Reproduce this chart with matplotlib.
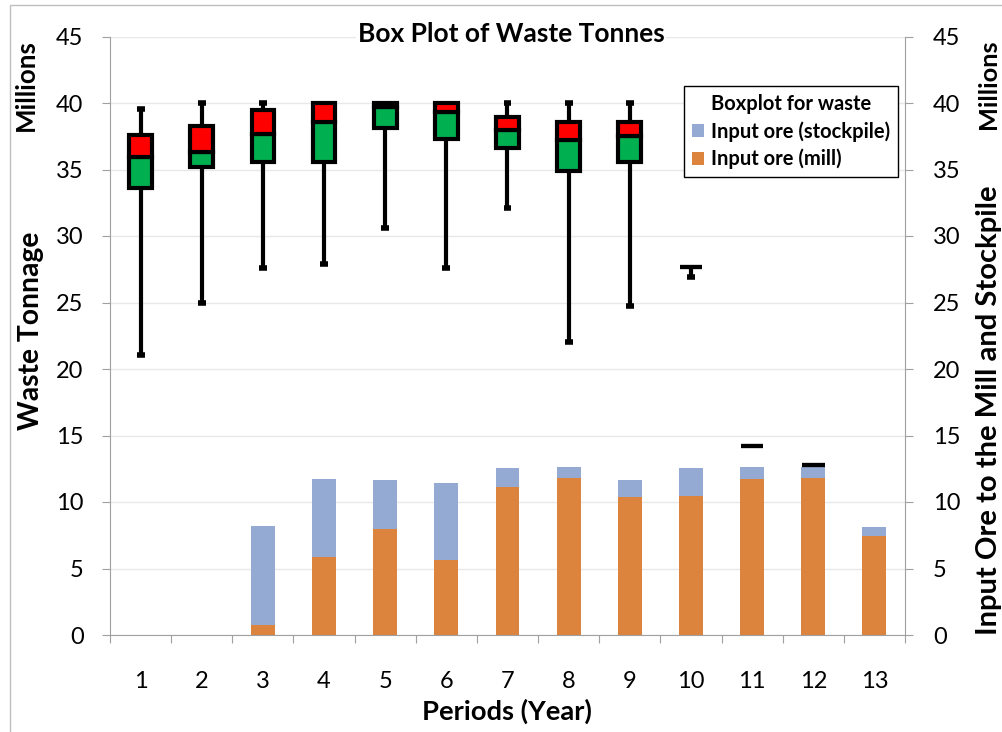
import numpy as np
import matplotlib
matplotlib.use('Agg')
import matplotlib.pyplot as plt
from matplotlib.patches import Patch, Rectangle

# ---------------- data (millions of tonnes) ----------------
periods = [str(i) for i in range(1, 14)]
whisker_low = [21.05, 25.0, 27.6, 27.9, 30.6, 27.6, 32.1, 22.0, 24.7, 26.95, np.nan, np.nan, np.nan]
q1 = [33.6, 35.2, 35.6, 35.55, 38.1, 37.3, 36.6, 34.9, 35.6, 27.7, 14.2, 12.8, np.nan]
median = [35.95, 36.3, 37.65, 38.55, 39.7, 39.3, 38.0, 37.2, 37.5, 27.7, 14.2, 12.8, np.nan]
q3 = [37.6, 38.25, 39.45, 40.0, 40.0, 40.0, 38.95, 38.6, 38.6, 27.7, 14.2, 12.8, np.nan]
whisker_high = [39.55, 40.0, 40.0, 40.0, 40.0, 40.0, 40.0, 40.0, 40.0, 27.7, 14.2, 12.8, np.nan]

input_mill = [0, 0, 0.75, 5.9, 7.97, 5.66, 11.13, 11.8, 10.38, 10.48, 11.7, 11.8, 7.42]
input_stockpile = [0, 0, 7.45, 5.8, 3.68, 5.79, 1.4, 0.8, 1.27, 2.05, 0.9, 0.8, 0.68]

y_ticks = [0, 5, 10, 15, 20, 25, 30, 35, 40, 45]

# ---------------- style ----------------
plt.rcParams['font.family'] = ['Lato', 'DejaVu Sans']
GREEN = '#00B050'
RED = '#FF0000'
BLUE = '#95AAD2'
ORANGE = '#DC843E'
SPINE = '#A0A0A0'
GRID = '#E8E8E8'

W, H = 1003, 732
fig = plt.figure(figsize=(W / 100, H / 100), dpi=100)
ax = fig.add_axes([110 / W, 1 - 635 / H, (905 - 110) / W, (635 - 36.5) / H])

x = np.arange(1, len(periods) + 1)

# stacked bars: mill at bottom, stockpile on top
ax.bar(x, input_mill, width=0.39, color=ORANGE, edgecolor='none', zorder=2)
ax.bar(x, input_stockpile, bottom=input_mill, width=0.39, color=BLUE,
       edgecolor='none', zorder=2)

# box plot drawn from quartiles
wl = np.array(whisker_low, dtype=float)
wh = np.array(whisker_high, dtype=float)
a1 = np.array(q1, dtype=float)
am = np.array(median, dtype=float)
a3 = np.array(q3, dtype=float)
ok = ~np.isnan(a1)

lo_m = ok & ~np.isnan(wl) & (wl < a1)
hi_m = ok & (wh > a3)
ax.vlines(x[lo_m], wl[lo_m], a1[lo_m], colors='k', lw=3, zorder=3)
ax.vlines(x[hi_m], a3[hi_m], wh[hi_m], colors='k', lw=3, zorder=3)
ax.hlines(wl[lo_m], x[lo_m] - 0.065, x[lo_m] + 0.065, colors='k', lw=4, zorder=3)
ax.hlines(wh[hi_m], x[hi_m] - 0.065, x[hi_m] + 0.065, colors='k', lw=4, zorder=3)

bw = 0.37
ax.bar(x[ok], (am - a1)[ok], bottom=a1[ok], width=bw, color=GREEN,
       edgecolor='k', lw=3, zorder=4)
ax.bar(x[ok], (a3 - am)[ok], bottom=am[ok], width=bw, color=RED,
       edgecolor='k', lw=3, zorder=4)

# axes formatting
ax.set_xlim(0.5, len(periods) + 0.5)
ax.set_ylim(0, 45)
ax.set_yticks(y_ticks)
ax.set_xticks(np.arange(0.5, len(periods) + 1, 1))
ax.set_xticklabels([])
ax.set_xticks(x, minor=True)
ax.set_xticklabels(periods, minor=True)
ax.tick_params(axis='x', which='major', length=6, color=SPINE, direction='out')
ax.tick_params(axis='x', which='minor', length=0, pad=26, labelsize=17)
ax.tick_params(axis='y', length=6, color=SPINE, direction='out', pad=13, labelsize=17)
ax.yaxis.grid(True, color=GRID, lw=1)
ax.set_axisbelow(True)
for s in ['top', 'right']:
    ax.spines[s].set_visible(False)
for s in ['left', 'bottom']:
    ax.spines[s].set_color(SPINE)

ax2 = ax.twinx()
ax2.set_ylim(0, 45)
ax2.set_yticks(y_ticks)
ax2.tick_params(axis='y', length=6, color=SPINE, direction='out', pad=14, labelsize=17)
for s in ['top', 'left', 'bottom']:
    ax2.spines[s].set_visible(False)
ax2.spines['right'].set_color(SPINE)

# texts: (text, centre x px, centre y px, rotation, target length px)
title_specs = [
    ('Box Plot of Waste Tonnes', 511, 34, 0, 308),
    ('Periods (Year)', 507, 711, 0, 170),
    ('Millions', 26, 85, 90, 92),
    ('Waste Tonnage', 31, 331, 90, 198),
    ('Millions', 989, 84, 90, 90),
    ('Input Ore to the Mill and Stockpile', 989, 410, 90, 450),
]
texts = []
for txt, cx, cy, rot, target in title_specs:
    kw = dict(ha='center', va='center', rotation=rot, fontsize=18, fontweight='bold')
    if txt.startswith('Box Plot'):
        kw['bbox'] = dict(facecolor='white', edgecolor='none', pad=1)
    t = fig.text(cx / W, 1 - cy / H, txt, **kw)
    texts.append((t, rot, target))

fig.canvas.draw()
renderer = fig.canvas.get_renderer()
for t, rot, target in texts:
    bb = t.get_window_extent(renderer=renderer)
    length = bb.height if rot else bb.width
    t.set_fontsize(t.get_fontsize() * target / length)

# legend
handles = [Patch(facecolor=BLUE, edgecolor='none'), Patch(facecolor=ORANGE, edgecolor='none')]
leg = ax.legend(handles, ['Input ore (stockpile)', 'Input ore (mill)'],
                title='Boxplot for waste', loc='upper right',
                bbox_to_anchor=(898 / W, 1 - 86 / H), bbox_transform=fig.transFigure,
                frameon=True, fancybox=False, framealpha=1, edgecolor='black',
                prop=dict(weight='bold', size=14.5),
                title_fontproperties=dict(weight='bold', size=14.5),
                handlelength=0.6, handleheight=0.6, handletextpad=0.35,
                borderpad=0.4, labelspacing=0.35, borderaxespad=0)
leg.get_frame().set_linewidth(1)
leg.set_zorder(10)

# outer chart border
fig.patches.append(Rectangle((10 / W, -0.1), 1.2, 1 - 5 / H + 0.1,
                             transform=fig.transFigure, fill=False,
                             edgecolor='#BFBFBF', lw=1))

fig.savefig('out.png', dpi=100)
